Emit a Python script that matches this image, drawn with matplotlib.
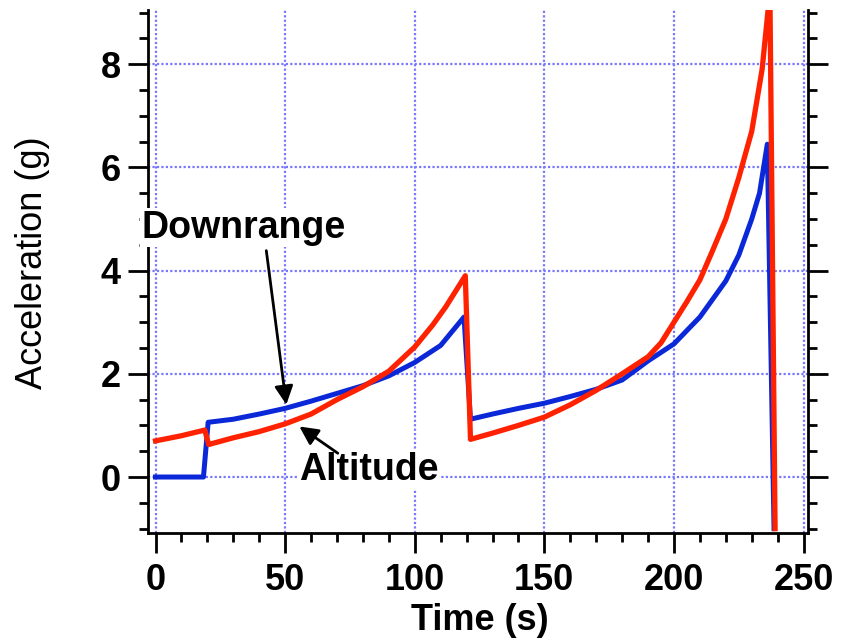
import matplotlib
matplotlib.use("Agg")
import matplotlib.pyplot as plt
from matplotlib.ticker import MultipleLocator

plt.rcParams['font.family'] = ['Liberation Sans', 'DejaVu Sans']

# downrange acceleration (blue)
t_down = [0, 18.5, 20.3, 30, 40, 50, 60, 70, 80, 90, 100, 110, 119,
          121.5, 130, 140, 150, 160, 170, 180, 190, 200, 210, 215, 220,
          225, 230, 233, 236, 238.6]
acc_down = [0, 0, 1.06, 1.12, 1.22, 1.33, 1.47, 1.62, 1.77, 1.96, 2.22, 2.55, 3.1,
            1.12, 1.22, 1.33, 1.43, 1.56, 1.70, 1.88, 2.25, 2.58, 3.1, 3.45, 3.8,
            4.3, 5.0, 5.5, 6.45, -1.0]

# altitude acceleration (red)
t_alt = [0, 10, 19, 20.5, 30, 40, 50, 60, 70, 80, 90, 100, 107, 112, 119.5,
         121.5, 130, 140, 150, 160, 170, 180, 190, 195, 200, 205, 210, 215,
         220, 225, 230, 234, 237, 239]
acc_alt = [0.70, 0.80, 0.91, 0.63, 0.76, 0.88, 1.03, 1.22, 1.50, 1.75, 2.05, 2.52, 2.95, 3.3, 3.9,
           0.73, 0.85, 1.0, 1.16, 1.40, 1.68, 2.0, 2.33, 2.6, 3.0, 3.4, 3.82, 4.4,
           5.0, 5.8, 6.7, 7.9, 9.4, -1.0]

fig = plt.figure(figsize=(8.45, 6.43), dpi=100)
ax = fig.add_axes([148/845, 110/643, 660/845, 523/643])

ax.plot(t_down, acc_down, color='#0a28d8', lw=3.6, zorder=3)
ax.plot(t_alt, acc_alt, color='#ff2200', lw=3.8, zorder=4)

ax.set_xlim(-2.9, 251.7)
ax.set_ylim(-1.085, 9.05)

ax.xaxis.set_major_locator(MultipleLocator(50))
ax.xaxis.set_minor_locator(MultipleLocator(10))
ax.yaxis.set_major_locator(MultipleLocator(2))
ax.yaxis.set_minor_locator(MultipleLocator(0.5))

ax.grid(True, which='major', color='#7878ff', linestyle=(0, (1, 1)), lw=1.6, zorder=1)

ax.spines['top'].set_visible(False)
for s in ['left', 'right', 'bottom']:
    ax.spines[s].set_linewidth(2)
ax.tick_params(which='both', direction='out', right=True, width=2)
ax.tick_params(which='major', length=14.5, pad=5)
ax.tick_params(which='minor', length=6.5)
ax.tick_params(axis='x', which='major', pad=7)
for lab in ax.get_xticklabels() + ax.get_yticklabels():
    lab.set_fontsize(26)
    lab.set_fontweight('bold')

ax.set_xlabel('Time (s)', fontsize=26, fontweight='bold')
ax.set_ylabel('Acceleration (g)', fontsize=26)
ax.xaxis.set_label_coords(0.503, -0.134)
ax.yaxis.set_label_coords(-0.148, 0.516)

ax.text(33.8, 4.83, 'Downrange', fontsize=27, fontweight='bold', ha='center', va='center',
        bbox=dict(fc='white', ec='none', pad=1), zorder=6, clip_on=False)
ax.annotate('', xy=(50.6, 1.35), xytext=(42.6, 4.44),
            arrowprops=dict(arrowstyle='-|>', color='black', lw=2, mutation_scale=28), zorder=6)

ax.text(82.2, 0.14, 'Altitude', fontsize=27, fontweight='bold', ha='center', va='center',
        bbox=dict(fc='white', ec='none', pad=1), zorder=6)
ax.annotate('', xy=(54.6, 1.01), xytext=(71.2, 0.43),
            arrowprops=dict(arrowstyle='-|>', color='black', lw=2, mutation_scale=28), zorder=6)

fig.savefig('out.png', dpi=100)
